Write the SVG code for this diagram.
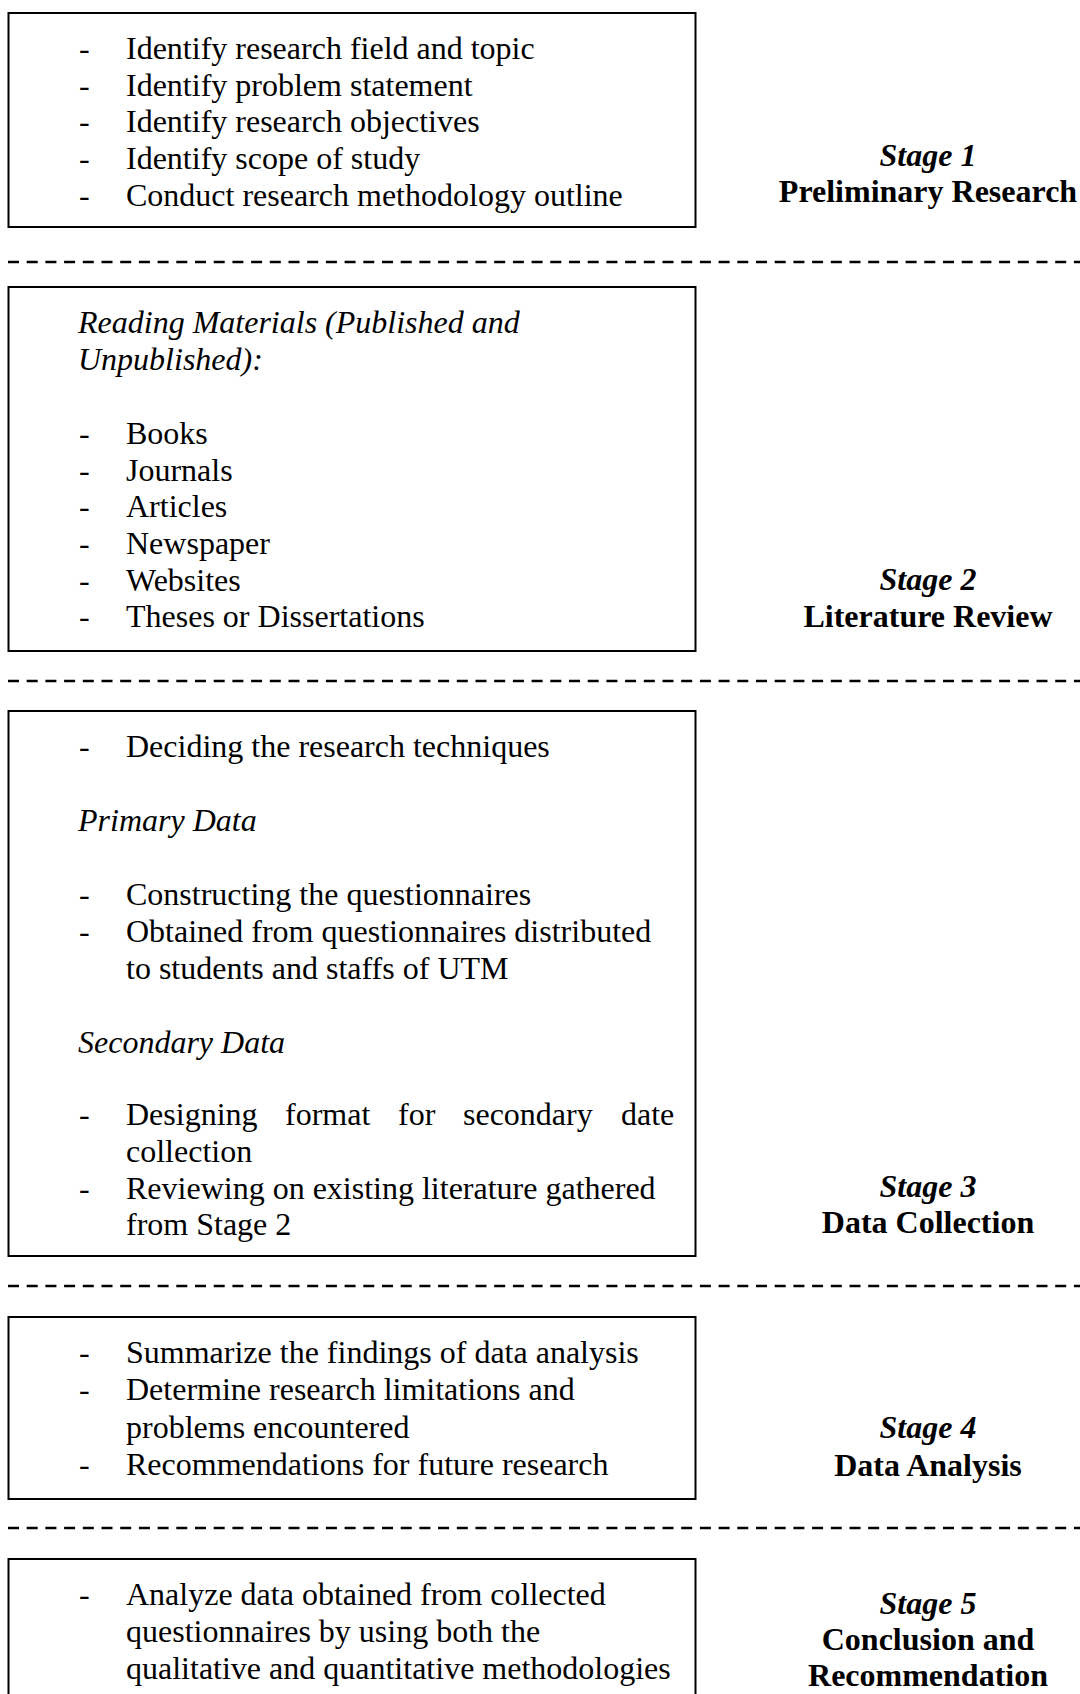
<svg xmlns="http://www.w3.org/2000/svg" width="1080" height="1694" viewBox="0 0 1080 1694">
<style>
.box{fill:#fff;stroke:#000;stroke-width:2}
.sep{stroke:#000;stroke-width:2.5;stroke-dasharray:11 7.7}
text{font-family:"Liberation Serif","Times New Roman",serif;font-size:32px;fill:#000}
.i{font-style:italic}
.b{font-weight:bold}
.st{text-anchor:middle}
</style>
<rect width="1080" height="1694" fill="#fff"/>
<g id="separators">
<line class="sep" x1="8" y1="262" x2="1080" y2="262"/>
<line class="sep" x1="8" y1="681" x2="1080" y2="681"/>
<line class="sep" x1="8" y1="1286" x2="1080" y2="1286"/>
<line class="sep" x1="8" y1="1528" x2="1080" y2="1528"/>
</g>
<g id="stage1">
<rect class="box" x="8.5" y="13" width="687" height="214"/>
<text x="79" y="59">-</text><text x="126" y="59">Identify research field and topic</text>
<text x="79" y="96">-</text><text x="126" y="96">Identify problem statement</text>
<text x="79" y="132">-</text><text x="126" y="132">Identify research objectives</text>
<text x="79" y="169">-</text><text x="126" y="169">Identify scope of study</text>
<text x="79" y="206">-</text><text x="126" y="206">Conduct research methodology outline</text>
<text class="i b st" x="928" y="166">Stage 1</text>
<text class="b st" x="928" y="202">Preliminary Research</text>
</g>
<g id="stage2">
<rect class="box" x="8.5" y="287" width="687" height="364"/>
<text class="i" x="78" y="333">Reading Materials (Published and</text>
<text class="i" x="78" y="370">Unpublished):</text>
<text x="79" y="444">-</text><text x="126" y="444">Books</text>
<text x="79" y="481">-</text><text x="126" y="481">Journals</text>
<text x="79" y="517">-</text><text x="126" y="517">Articles</text>
<text x="79" y="554">-</text><text x="126" y="554">Newspaper</text>
<text x="79" y="591">-</text><text x="126" y="591">Websites</text>
<text x="79" y="627">-</text><text x="126" y="627">Theses or Dissertations</text>
<text class="i b st" x="928" y="590">Stage 2</text>
<text class="b st" x="928" y="627">Literature Review</text>
</g>
<g id="stage3">
<rect class="box" x="8.5" y="711" width="687" height="545"/>
<text x="79" y="757">-</text><text x="126" y="757">Deciding the research techniques</text>
<text class="i" x="78" y="831">Primary Data</text>
<text x="79" y="905">-</text><text x="126" y="905">Constructing the questionnaires</text>
<text x="79" y="942">-</text><text x="126" y="942">Obtained from questionnaires distributed</text>
<text x="126" y="979">to students and staffs of UTM</text>
<text class="i" x="78" y="1053">Secondary Data</text>
<text x="79" y="1125">-</text><text y="1125"><tspan x="126">Designing</tspan><tspan x="285">format</tspan><tspan x="398">for</tspan><tspan x="463">secondary</tspan><tspan x="621">date</tspan></text>
<text x="126" y="1162">collection</text>
<text x="79" y="1199">-</text><text x="126" y="1199">Reviewing on existing literature gathered</text>
<text x="126" y="1235">from Stage 2</text>
<text class="i b st" x="928" y="1197">Stage 3</text>
<text class="b st" x="928" y="1233">Data Collection</text>
</g>
<g id="stage4">
<rect class="box" x="8.5" y="1317" width="687" height="182"/>
<text x="79" y="1363">-</text><text x="126" y="1363">Summarize the findings of data analysis</text>
<text x="79" y="1400">-</text><text x="126" y="1400">Determine research limitations and</text>
<text x="126" y="1438">problems encountered</text>
<text x="79" y="1475">-</text><text x="126" y="1475">Recommendations for future research</text>
<text class="i b st" x="928" y="1438">Stage 4</text>
<text class="b st" x="928" y="1476">Data Analysis</text>
</g>
<g id="stage5">
<rect class="box" x="8.5" y="1559" width="687" height="200"/>
<text x="79" y="1605">-</text><text x="126" y="1605">Analyze data obtained from collected</text>
<text x="126" y="1642">questionnaires by using both the</text>
<text x="126" y="1679">qualitative and quantitative methodologies</text>
<text class="i b st" x="928" y="1614">Stage 5</text>
<text class="b st" x="928" y="1650">Conclusion and</text>
<text class="b st" x="928" y="1686">Recommendation</text>
</g>
</svg>
